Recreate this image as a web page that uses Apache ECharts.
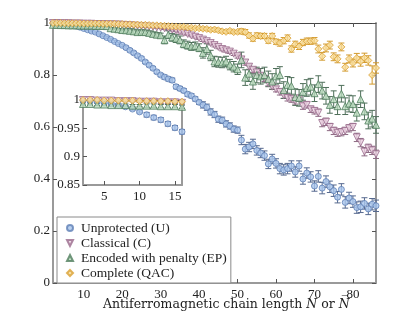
<!DOCTYPE html>
<html><head><meta charset="utf-8">
<script src="https://cdn.jsdelivr.net/npm/echarts@6/dist/echarts.min.js"></script>
<style>html,body{margin:0;padding:0;background:#fff}#c{width:415px;height:319px}</style>
</head><body><div id="c"></div>
<script>
const N = [2,3,4,5,6,7,8,9,10,11,
12,13,14,15,16,17,18,19,20,21,
22,23,24,25,26,27,28,29,30,31,
32,33,34,35,36,37,38,39,40,41,
42,43,44,45,46,47,48,49,50,51,
52,53,54,55,56,57,58,59,60,61,
62,63,64,65,66,67,68,69,70,71,
72,73,74,75,76,77,78,79,80,81,
82,83,84,85,86];

const U = [0.999,0.998,0.997,0.995,0.993,0.991,0.988,0.984,0.979,0.974,
0.969,0.965,0.958,0.951,0.944,0.937,0.929,0.921,0.914,0.905,
0.895,0.885,0.874,0.864,0.85,0.838,0.826,0.812,0.800,0.792,
0.785,0.78,0.755,0.748,0.74,0.726,0.72,0.708,0.695,0.685,
0.676,0.658,0.648,0.63,0.626,0.612,0.604,0.592,0.588,0.55,
0.515,0.523,0.535,0.51,0.5,0.49,0.458,0.477,0.46,0.44,
0.435,0.44,0.45,0.427,0.45,0.40,0.423,0.408,0.373,0.41,
0.365,0.39,0.37,0.355,0.33,0.36,0.31,0.327,0.313,0.29,
0.293,0.306,0.285,0.303,0.297];
const U_err = [0.002,0.002,0.002,0.002,0.002,0.002,0.002,0.002,0.002,0.004,
0.004,0.004,0.004,0.004,0.004,0.004,0.004,0.004,0.004,0.006,
0.006,0.006,0.006,0.006,0.006,0.006,0.006,0.006,0.006,0.008,
0.008,0.008,0.008,0.008,0.008,0.008,0.008,0.008,0.008,0.012,
0.012,0.012,0.012,0.012,0.012,0.012,0.012,0.012,0.012,0.018,
0.018,0.018,0.018,0.018,0.018,0.018,0.018,0.018,0.018,0.02,
0.02,0.02,0.02,0.02,0.02,0.02,0.02,0.02,0.02,0.022,
0.022,0.022,0.022,0.022,0.022,0.022,0.022,0.022,0.022,0.022,
0.022,0.022,0.022,0.022,0.022];

const C = [1.0,1.0,0.999,0.999,0.999,0.998,0.998,0.998,0.997,0.997,
0.997,0.996,0.996,0.996,0.995,0.995,0.994,0.994,0.993,0.992,
0.991,0.99,0.989,0.988,0.987,0.986,0.985,0.983,0.982,0.98,
0.978,0.975,0.972,0.967,0.962,0.958,0.952,0.947,0.942,0.936,
0.93,0.923,0.915,0.908,0.9,0.895,0.89,0.882,0.872,0.86,
0.848,0.832,0.82,0.81,0.797,0.785,0.768,0.755,0.745,0.735,
0.722,0.712,0.707,0.70,0.71,0.68,0.685,0.668,0.662,0.655,
0.615,0.62,0.6,0.585,0.578,0.58,0.585,0.595,0.6,0.56,
0.54,0.505,0.518,0.51,0.495];
const C_err = [0.001,0.001,0.001,0.001,0.001,0.001,0.001,0.001,0.001,0.002,
0.002,0.002,0.002,0.002,0.002,0.002,0.002,0.002,0.002,0.003,
0.003,0.003,0.003,0.003,0.003,0.003,0.003,0.003,0.003,0.005,
0.005,0.005,0.005,0.005,0.005,0.005,0.005,0.005,0.005,0.007,
0.007,0.007,0.007,0.007,0.007,0.007,0.007,0.007,0.007,0.01,
0.01,0.01,0.01,0.01,0.01,0.01,0.01,0.01,0.01,0.012,
0.012,0.012,0.012,0.012,0.012,0.012,0.012,0.012,0.012,0.014,
0.014,0.014,0.014,0.014,0.014,0.014,0.014,0.014,0.014,0.016,
0.016,0.016,0.016,0.016,0.016];

const EP = [0.993,0.993,0.992,0.992,0.991,0.991,0.991,0.99,0.99,0.99,
0.99,0.989,0.989,0.989,0.988,0.98,0.978,0.976,0.973,0.972,
0.97,0.968,0.965,0.966,0.965,0.962,0.958,0.955,0.953,0.935,
0.955,0.945,0.94,0.935,0.92,0.915,0.91,0.912,0.905,0.885,
0.9,0.875,0.852,0.85,0.848,0.852,0.84,0.832,0.822,0.858,
0.79,0.805,0.775,0.8,0.795,0.8,0.785,0.775,0.795,0.8,
0.742,0.762,0.758,0.715,0.712,0.735,0.75,0.755,0.73,0.765,
0.74,0.72,0.685,0.707,0.68,0.728,0.68,0.69,0.688,0.655,
0.707,0.66,0.625,0.632,0.608];
const EP_err = [0.002,0.002,0.002,0.002,0.002,0.002,0.002,0.002,0.002,0.003,
0.003,0.003,0.003,0.003,0.003,0.003,0.003,0.003,0.003,0.008,
0.008,0.008,0.008,0.008,0.008,0.008,0.008,0.008,0.008,0.015,
0.015,0.015,0.015,0.015,0.015,0.015,0.015,0.015,0.015,0.02,
0.02,0.02,0.02,0.02,0.02,0.02,0.02,0.02,0.02,0.03,
0.03,0.03,0.03,0.03,0.03,0.03,0.03,0.03,0.03,0.032,
0.032,0.032,0.032,0.032,0.032,0.032,0.032,0.032,0.032,0.032,
0.032,0.032,0.032,0.032,0.032,0.032,0.032,0.032,0.032,0.032,
0.032,0.032,0.032,0.032,0.032];

const QAC = [1.0,1.0,1.0,0.999,0.999,0.999,0.999,0.999,0.998,0.998,
0.998,0.998,0.998,0.997,0.997,0.997,0.997,0.996,0.996,0.995,
0.995,0.994,0.994,0.993,0.993,0.992,0.991,0.991,0.99,0.989,
0.988,0.987,0.986,0.985,0.985,0.983,0.982,0.98,0.98,0.978,
0.977,0.974,0.975,0.972,0.968,0.966,0.97,0.965,0.966,0.968,
0.965,0.952,0.94,0.952,0.95,0.95,0.932,0.95,0.928,0.923,
0.932,0.942,0.9,0.918,0.91,0.925,0.93,0.93,0.932,0.9,
0.872,0.904,0.915,0.87,0.862,0.908,0.83,0.862,0.846,0.865,
0.852,0.866,0.856,0.80,0.827];
const QAC_err = [0.001,0.001,0.001,0.001,0.001,0.001,0.001,0.001,0.001,0.001,
0.001,0.001,0.001,0.001,0.001,0.001,0.001,0.001,0.001,0.002,
0.002,0.002,0.002,0.002,0.002,0.002,0.002,0.002,0.002,0.003,
0.003,0.003,0.003,0.003,0.003,0.003,0.003,0.003,0.003,0.006,
0.006,0.006,0.006,0.006,0.006,0.006,0.006,0.006,0.006,0.01,
0.01,0.01,0.01,0.01,0.01,0.01,0.01,0.01,0.01,0.012,
0.012,0.012,0.012,0.012,0.012,0.012,0.012,0.012,0.012,0.015,
0.015,0.015,0.015,0.015,0.015,0.015,0.015,0.015,0.015,0.018,
0.018,0.018,0.018,0.035,0.02];

const names = ['Unprotected (U)','Classical (C)','Encoded with penalty (EP)','Complete (QAC)'];
const mainXTicks = [10,20,30,40,50,60,70,80];
const mainYTicks = [0,0.2,0.4,0.6,0.8,1];
const insetXTicks = [5,10,15];
const insetYTicks = [0.85,0.9,0.95,1];
const insetMaxN = 16;

const FONT = 'Liberation Serif';
const styles = [
  {fill:'#a9c5ec', stroke:'#5f7fb5', err:'#56698f', symbol:'circle', rot:0, size:6, icon:'circle'},
  {fill:'#ecd3e2', stroke:'#9a6a8c', err:'#8c6a82', symbol:'triangle', rot:180, size:7, icon:'path://M0,0L10,0L5,10Z'},
  {fill:'#bcdcbf', stroke:'#4f7d5c', err:'#4f6f5a', symbol:'triangle', rot:0, size:7, icon:'triangle'},
  {fill:'#f7dc98', stroke:'#d9a032', err:'#d29a2e', symbol:'diamond', rot:0, size:7, icon:'diamond'}
];
const vals = [U, C, EP, QAC];
const errs = [U_err, C_err, EP_err, QAC_err];

function errSeries(i, xi, yi, maxN, z) {
  const data = [];
  N.forEach((n, k) => { if (n <= maxN) data.push([n, vals[i][k] - errs[i][k], vals[i][k] + errs[i][k]]); });
  return {
    type: 'custom', name: 'err' + i + '_' + xi, xAxisIndex: xi, yAxisIndex: yi, z: z, clip: false,
    data: data,
    renderItem: function (params, api) {
      const x = api.value(0);
      const lo = api.coord([x, api.value(1)]);
      const hi = api.coord([x, api.value(2)]);
      const cw = 3;
      const st = {stroke: styles[i].err, lineWidth: 1};
      return {type: 'group', children: [
        {type: 'line', shape: {x1: lo[0], y1: lo[1], x2: hi[0], y2: hi[1]}, style: st},
        {type: 'line', shape: {x1: lo[0]-cw, y1: lo[1], x2: lo[0]+cw, y2: lo[1]}, style: st},
        {type: 'line', shape: {x1: hi[0]-cw, y1: hi[1], x2: hi[0]+cw, y2: hi[1]}, style: st}
      ]};
    }
  };
}
function ptSeries(i, xi, yi, maxN, named, z) {
  const data = [];
  N.forEach((n, k) => { if (n <= maxN) data.push([n, vals[i][k]]); });
  const s = styles[i];
  return {
    type: 'scatter', name: named ? names[i] : ('pt' + i + '_' + xi), xAxisIndex: xi, yAxisIndex: yi, z: z, clip: false,
    symbol: s.symbol, symbolRotate: s.rot, symbolSize: s.size,
    itemStyle: {color: s.fill, borderColor: s.stroke, borderWidth: 1},
    emphasis: {disabled: true},
    data: data
  };
}

const series = [];
for (let i = 0; i < 4; i++) series.push(errSeries(i, 0, 0, 1000, 2));
for (let i = 0; i < 4; i++) series.push(ptSeries(i, 0, 0, 1000, true, 3));
for (let i = 0; i < 4; i++) series.push(errSeries(i, 2, 2, insetMaxN, 12));
for (let i = 0; i < 4; i++) series.push(ptSeries(i, 2, 2, insetMaxN, false, 13));

const lab = {fontFamily: FONT, fontSize: 13, color: '#222'};
const fmt = v => String(+(+v).toFixed(2));
function xAx(grid, min, max, ticks, pos, showLab, lineStyle, z) {
  return {type: 'value', gridIndex: grid, min: min, max: max, position: pos, z: z,
    axisLine: {show: true, onZero: false, lineStyle: lineStyle},
    axisTick: {show: true, inside: true, length: 4, customValues: ticks, lineStyle: {color: '#555', width: 1}},
    axisLabel: {show: showLab, customValues: ticks, formatter: fmt, margin: 5, ...lab},
    splitLine: {show: false}};
}
function yAx(grid, min, max, ticks, pos, showLab, lineStyle, z) {
  return {type: 'value', gridIndex: grid, min: min, max: max, position: pos, z: z,
    axisLine: {show: true, onZero: false, lineStyle: lineStyle},
    axisTick: {show: true, inside: true, length: 4, customValues: ticks, lineStyle: {color: '#555', width: 1}},
    axisLabel: {show: showLab, customValues: ticks, formatter: fmt, margin: 3, ...lab},
    splitLine: {show: false}};
}
const thick = {color: '#9a9a9a', width: 2};
const thin = {color: '#444', width: 1};

const option = {
  animation: false,
  backgroundColor: '#fff',
  grid: [
    {left: 53, right: 39, top: 23, bottom: 36},
    {left: 83, top: 100, width: 99, height: 85, show: true, backgroundColor: '#fff', borderWidth: 0, z: 5}
  ],
  xAxis: [
    xAx(0, 2, 86, mainXTicks, 'bottom', true, thick, 1),
    xAx(0, 2, 86, mainXTicks, 'top', false, thin, 1),
    xAx(1, 2, 16, insetXTicks, 'bottom', true, thick, 11),
    xAx(1, 2, 16, [], 'top', false, thin, 11)
  ],
  yAxis: [
    yAx(0, 0, 1, mainYTicks, 'left', true, thick, 1),
    yAx(0, 0, 1, mainYTicks, 'right', false, thick, 1),
    yAx(1, 0.85, 1, insetYTicks, 'left', true, thick, 11),
    yAx(1, 0.85, 1, [], 'right', false, thick, 11)
  ],
  legend: {
    data: names.map((n, i) => ({name: n, icon: styles[i].icon})),
    orient: 'vertical', left: 57, top: 217,
    backgroundColor: '#fff', borderColor: '#8a8a8a', borderWidth: 1,
    padding: [4, 4, 3, 9], itemGap: 1, itemWidth: 6, itemHeight: 6,
    textStyle: {fontFamily: FONT, fontSize: 13.5, color: '#222', padding: [0, 0, 0, 3]}
  },
  graphic: [{
    type: 'text', left: 103, top: 298,
    style: {
      text: '{r|Antiferromagnetic chain length }{i|N}{r| or }{i|N\u0305}',
      rich: {
        r: {fontFamily: 'DejaVu Serif', fontSize: 12.5, fill: '#222'},
        i: {fontFamily: 'DejaVu Serif', fontSize: 12.5, fontStyle: 'italic', fill: '#222'}
      }
    }
  }],
  series: series
};
const chart = echarts.init(document.getElementById('c'), null, {renderer: 'canvas'});
chart.setOption(option);
</script></body></html>
